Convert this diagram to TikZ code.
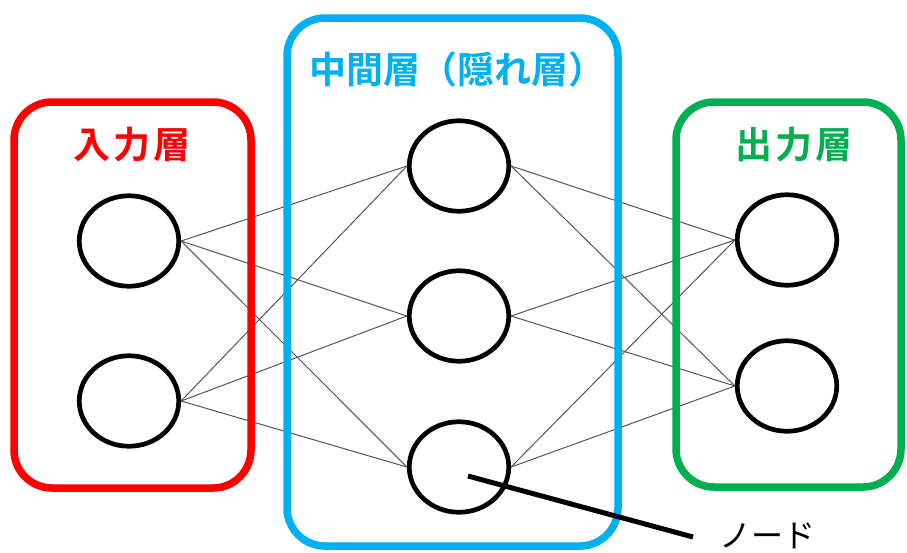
\documentclass[tikz,border=0pt]{standalone}
\usepackage{fontspec}
\newfontfamily\jpb{Noto Sans CJK JP Bold}
\newfontfamily\jp{Noto Sans CJK JP}
\definecolor{lred}{HTML}{FF0000}
\definecolor{lblue}{HTML}{00B0F0}
\definecolor{lgreen}{HTML}{00B050}
\definecolor{wire}{HTML}{555555}
\tikzset{
  neuron/.style={draw=black, line width=3.2pt, fill=white, ellipse, minimum width=101pt, minimum height=92pt, inner sep=0pt},
  layerbox/.style={line width=7.5pt, rounded corners=38pt},
  wireline/.style={draw=wire, line width=1pt},
  title/.style={font=\jpb\fontsize{37}{40}\selectfont, inner sep=0pt},
}
\usetikzlibrary{shapes.geometric}
\begin{document}
\begin{tikzpicture}[x=1pt,y=-1pt]
\useasboundingbox (0,0) rectangle (907,552);
% nodes
\node[neuron] (i1) at (129,241) {};
\node[neuron] (i2) at (129,401) {};
\node[neuron] (h1) at (459,166) {};
\node[neuron] (h2) at (459,316) {};
\node[neuron] (h3) at (459,467) {};
\node[neuron] (o1) at (787,240) {};
\node[neuron] (o2) at (787,386) {};
% wires
\foreach \a in {i1,i2}
  \foreach \b in {h1,h2,h3}
    \draw[wireline] (\a.east) -- (\b.west);
\foreach \a in {h1,h2,h3}
  \foreach \b in {o1,o2}
    \draw[wireline] (\a.east) -- (\b.west);
% boxes
\draw[layerbox, draw=lred] (14,102) rectangle (251,488);
\draw[layerbox, draw=lblue] (287,18) rectangle (618,546);
\draw[layerbox, draw=lgreen] (676,102) rectangle (901,487);
% redraw circles on top
\foreach \n/\p in {i1/{(129,241)},i2/{(129,401)},h1/{(459,166)},h2/{(459,316)},h3/{(459,467)},o1/{(787,240)},o2/{(787,386)}}
  \draw[black, line width=3.2pt] \p ellipse (49pt and 44.5pt);
% titles
\node[title, text=lred] (tin) at (132,145) {入\hspace{3pt}力\hspace{3pt}層};
\node[title, text=lblue] (thid) at (457,69) {中間層（隠れ層）};
\node[title, text=lgreen] (tout) at (794,145) {出\hspace{3pt}力\hspace{3pt}層};
% pointer
\coordinate (pstart) at (468,476);
\node[font=\jp\fontsize{32}{36}\selectfont, inner sep=0pt, anchor=west] (lbl) at (719,536) {ノード};
\draw[black, line width=5pt] (pstart) -- (693,537);
\end{tikzpicture}
\end{document}
